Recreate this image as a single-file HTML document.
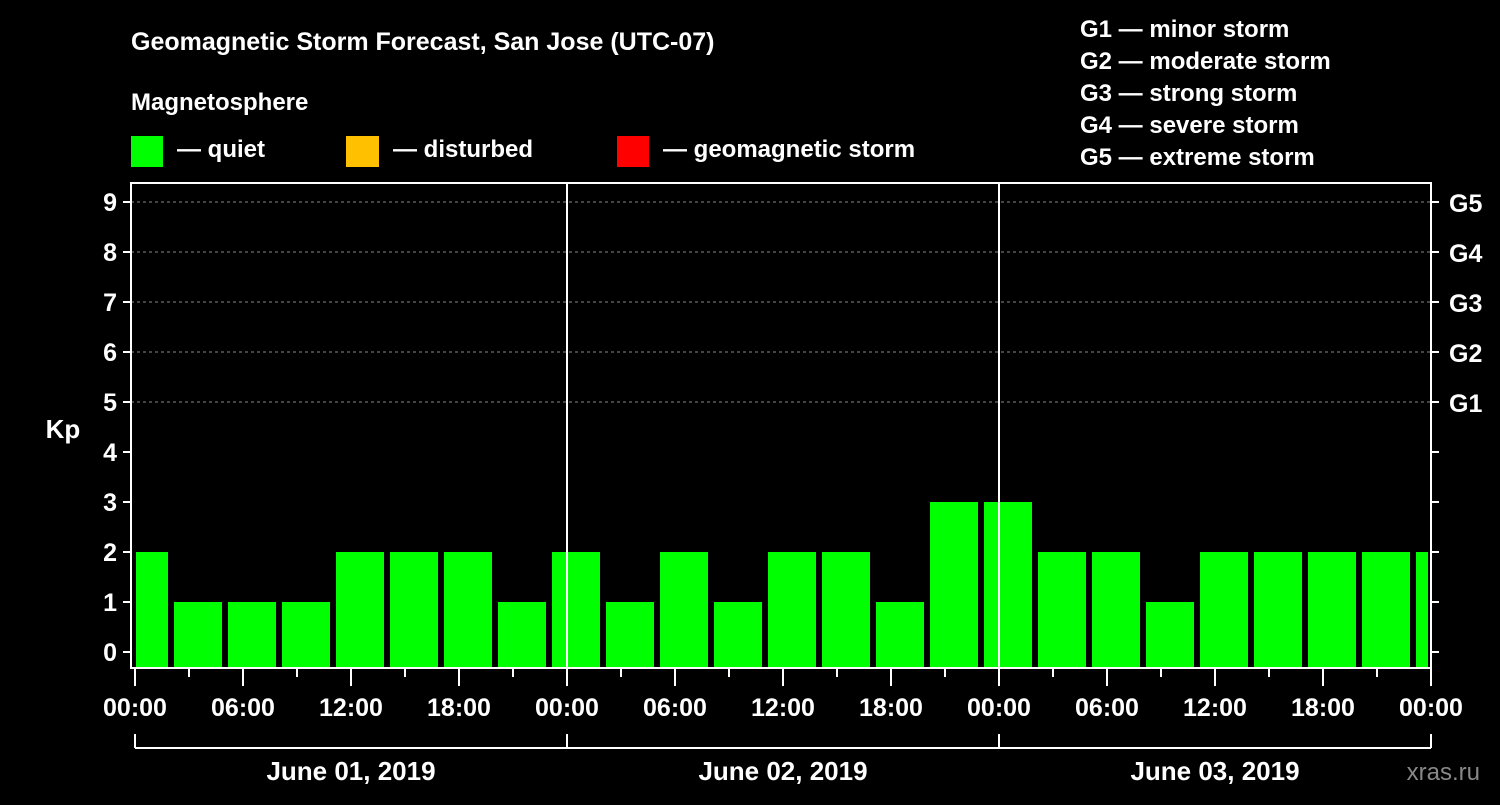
<!DOCTYPE html>
<html><head><meta charset="utf-8"><style>
html,body{margin:0;padding:0;background:#000;}
svg text{font-family:"Liberation Sans",Arial,sans-serif;font-weight:bold;fill:#fff;}
</style></head><body>
<svg width="1500" height="800" xmlns="http://www.w3.org/2000/svg">
<rect width="1500" height="800" fill="#000"/>
<text x="131" y="50" font-size="25">Geomagnetic Storm Forecast, San Jose (UTC-07)</text>
<text x="131" y="110" font-size="24">Magnetosphere</text>
<g>
<rect x="131" y="136" width="32" height="31" fill="#00ff00"/>
<text x="177" y="157" font-size="24">— quiet</text>
<rect x="346" y="136" width="33" height="31" fill="#ffc000"/>
<text x="393" y="157" font-size="24">— disturbed</text>
<rect x="617" y="136" width="32" height="31" fill="#ff0000"/>
<text x="663" y="157" font-size="24">— geomagnetic storm</text>
</g>
<g font-size="24">
<text x="1080" y="37">G1 — minor storm</text>
<text x="1080" y="69">G2 — moderate storm</text>
<text x="1080" y="101">G3 — strong storm</text>
<text x="1080" y="133">G4 — severe storm</text>
<text x="1080" y="165">G5 — extreme storm</text>
</g>
<text x="63" y="438" font-size="26" text-anchor="middle">Kp</text>
<g id="grid"></g>
<g id="bars"></g>
<g id="axes"></g>
<text x="1480" y="780" font-size="24" text-anchor="end" fill="#888" style="fill:#888;font-weight:normal">xras.ru</text>
</svg>
<script>
const kpValues=[2,1,1,1,2,2,2,1,2,1,2,1,2,2,1,3,3,2,2,1,2,2,2,2,2];
const yTicks=[0,1,2,3,4,5,6,7,8,9];
const gLabels=["G1","G2","G3","G4","G5"];
const gLevels=[5,6,7,8,9];
const timeLabels=["00:00","06:00","12:00","18:00","00:00","06:00","12:00","18:00","00:00","06:00","12:00","18:00","00:00"];
const dayLabels=["June 01, 2019","June 02, 2019","June 03, 2019"];
const NS="http://www.w3.org/2000/svg";
const X0=135,PXH=18,L=131,R=1431,T=183,B=668,CL=136,CR=1428;
const y=v=>652-50*v;
const x=h=>X0+PXH*h;
function mk(p,tag,at){const e=document.createElementNS(NS,tag);for(const k in at)e.setAttribute(k,at[k]);p.appendChild(e);return e;}
const grid=document.getElementById('grid'),bars=document.getElementById('bars'),axes=document.getElementById('axes');
yTicks.forEach(v=>{if(v>=5){const l=mk(grid,'line',{x1:L,x2:R,y1:y(v),y2:y(v),stroke:'#888','stroke-dasharray':'3,3','stroke-width':1});

}});
kpValues.forEach((v,i)=>{const c=x(0.5+3*i);let a=Math.max(c-24,CL),b=Math.min(c+24,CR);
const col=v>=5?'#ff0000':(v>=4?'#ffc000':'#00ff00');
const r=mk(bars,'rect',{x:a,y:y(v),width:b-a,height:B-y(v),fill:col});

});
[24,48].forEach(h=>{mk(axes,'line',{x1:x(h),x2:x(h),y1:T,y2:B,stroke:'#fff','stroke-width':2});});
const fr=mk(axes,'rect',{x:L,y:T,width:R-L,height:B-T,fill:'none',stroke:'#fff','stroke-width':2});


yTicks.forEach(v=>{mk(axes,'line',{x1:L-8,x2:L,y1:y(v),y2:y(v),stroke:'#fff','stroke-width':2});
mk(axes,'line',{x1:R,x2:R+8,y1:y(v),y2:y(v),stroke:'#fff','stroke-width':2});
const t=mk(axes,'text',{x:L-14,y:y(v)+9,'font-size':25,'text-anchor':'end'});t.textContent=v;

});
gLabels.forEach((g,i)=>{const t=mk(axes,'text',{x:R+18,y:y(gLevels[i])+10,'font-size':25});t.textContent=g;

});
for(let h=0;h<=72;h+=3){const maj=h%6===0;mk(axes,'line',{x1:x(h),x2:x(h),y1:B,y2:B+(maj?18:9),stroke:'#fff','stroke-width':2});}
timeLabels.forEach((s,i)=>{const t=mk(axes,'text',{x:x(6*i),y:716,'font-size':25,'text-anchor':'middle'});t.textContent=s;

});
mk(axes,'line',{x1:x(0),x2:x(72),y1:748,y2:748,stroke:'#fff','stroke-width':2});
[0,24,48,72].forEach(h=>mk(axes,'line',{x1:x(h),x2:x(h),y1:734,y2:748,stroke:'#fff','stroke-width':2}));
dayLabels.forEach((s,i)=>{const t=mk(axes,'text',{x:x(24*i+12),y:780,'font-size':26,'text-anchor':'middle'});t.textContent=s;

});
</script>
</body></html>
